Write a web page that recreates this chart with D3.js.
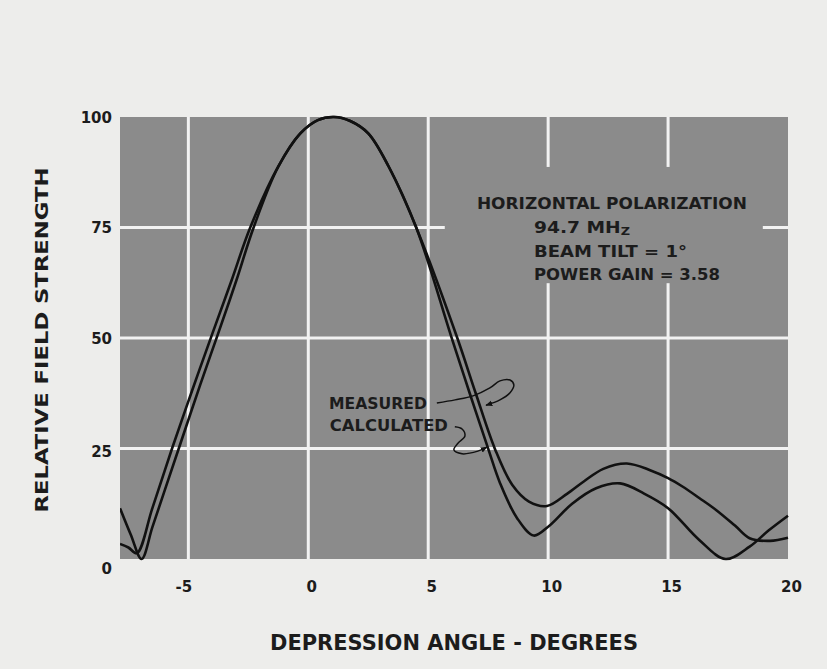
<!DOCTYPE html>
<html><head><meta charset="utf-8">
<script src="https://cdn.jsdelivr.net/npm/d3@7"></script>
<style>body{margin:0;background:#ededeb;} svg{display:block}</style>
</head><body><svg id="c" width="827" height="669"></svg>
<script>
// ---- data ----
const xTicks = [-5, 0, 5, 10, 15, 20];
const yTicks = [0, 25, 50, 75, 100];
const xGrid = [-5, 0, 5, 10, 15];
const yGrid = [25, 50, 75];

const measuredAngle = [-7.85,-7.5,-7.15,-6.5,-5.68,-4.85,-4.0,-3.2,-2.42,-1.25,-0.33,0.4,1.07,1.75,2.5,3.35,4.5,6.18,6.98,7.79,8.5,9.2,9.95,10.8,11.5,12.3,13.28,14.25,15.0,15.6,16.3,17.0,17.8,18.4,19.25,20.0];
const measuredField = [3.4,2.6,1.3,11.5,25,38,51,63,75,88.8,96.3,99.3,100,99.1,96.3,88.8,75,50.5,37.5,24.8,16.8,13,12,14.8,17.6,20.4,21.6,20.1,18.3,16.4,13.8,11.1,7.5,4.7,4.1,4.8];

const calculatedAngle = [-7.85,-7.4,-6.95,-6.5,-6.0,-5.4,-4.5,-3.76,-3.0,-2.28,-1.25,-0.33,0.4,1.07,1.75,2.5,3.35,4.5,5.95,6.73,7.51,8.0,8.7,9.4,10.0,11.0,12.0,13.0,14.0,15.0,16.3,17.4,18.4,19.2,20.0];
const calculatedField = [11.5,5.5,0,7.2,15.3,25,39.5,51,63,75,88.8,96.3,99.3,100,99.1,96.3,88.8,75,50.5,37.5,24.8,17.1,9.3,5.3,7.3,12.5,16,17.1,14.8,11.5,4.3,0,2.8,6.5,9.8];

const noteLines = ["HORIZONTAL POLARIZATION", "94.7 MH", "BEAM TILT = 1°", "POWER GAIN = 3.58"];
const seriesLabels = ["MEASURED", "CALCULATED"];
// leader arrows (data units: angle, field)
const measuredArrowAngle = [5.36,6.12,6.87,7.57,7.99,8.41,8.57,8.41,7.99,7.41];
const measuredArrowField = [35.3,36.0,36.9,38.7,40.3,40.5,39.4,37.6,36.0,34.8];
const calculatedArrowAngle = [6.11,6.41,6.53,6.24,6.07,6.41,7.07,7.45];
const calculatedArrowField = [29.9,29.4,27.8,26.2,24.7,23.8,24.4,25.3];

// ---- layout ----
const svg = d3.select("#c");
const x = d3.scaleLinear().domain([-7.85, 20]).range([120, 788]);
const y = d3.scaleLinear().domain([0, 100]).range([559, 117]);
const FONT = "'DejaVu Sans', sans-serif";
const ink = "#1c1c1c";
const plotFill = "#8b8b8b";

const defs = svg.append("defs");
defs.append("clipPath").attr("id", "clip").append("rect")
  .attr("x", x(-7.85)).attr("y", y(100) - 4)
  .attr("width", x(20) - x(-7.85) + 2).attr("height", y(0) - y(100) + 8);

// plot background
svg.append("rect").attr("x", x(-7.85)).attr("y", y(100))
  .attr("width", x(20) - x(-7.85)).attr("height", y(0) - y(100))
  .attr("fill", plotFill);

// grid
svg.append("g").selectAll("line").data(xGrid).join("line")
  .attr("x1", d => x(d)).attr("x2", d => x(d))
  .attr("y1", y(100)).attr("y2", y(0))
  .attr("stroke", "#f2f2f2").attr("stroke-width", 3);
svg.append("g").selectAll("line").data(yGrid).join("line")
  .attr("x1", x(-7.85)).attr("x2", x(20))
  .attr("y1", d => y(d)).attr("y2", d => y(d))
  .attr("stroke", "#f2f2f2").attr("stroke-width", 3);

// note box (covers grid)
svg.append("rect").attr("x", x(5.69)).attr("y", y(88.7))
  .attr("width", x(18.95) - x(5.69)).attr("height", y(62.4) - y(88.7))
  .attr("fill", plotFill);

// axes (labels only)
const xAxis = svg.append("g").attr("transform", `translate(0,${y(0)})`)
  .call(d3.axisBottom(x).tickValues(xTicks).tickSize(0).tickPadding(22).tickFormat(d => d < 0 ? "-" + Math.abs(d) : d));
xAxis.select(".domain").remove();
xAxis.selectAll("text").attr("font-family", FONT).attr("font-weight", "bold").attr("font-size", 15)
  .attr("fill", ink).attr("dx", d => d < 0 ? -5 : 3);

const yAxis = svg.append("g").attr("transform", `translate(112,0)`)
  .call(d3.axisLeft(y).tickValues(yTicks).tickSize(0).tickPadding(0));
yAxis.select(".domain").remove();
yAxis.selectAll("text").attr("font-family", FONT).attr("font-weight", "bold").attr("font-size", 15)
  .attr("fill", ink).attr("dy", d => d === 0 ? "0.95em" : d === 25 ? "0.55em" : "0.35em");

// curves
const line = d3.line().x(d => x(d[0])).y(d => y(d[1])).curve(d3.curveCatmullRom.alpha(0.5));
const measured = measuredAngle.map((a, i) => [a, measuredField[i]]);
const calculated = calculatedAngle.map((a, i) => [a, calculatedField[i]]);
const curves = svg.append("g").attr("clip-path", "url(#clip)");
[measured, calculated].forEach(s => {
  curves.append("path").datum(s).attr("d", line).attr("fill", "none")
    .attr("stroke", "#111").attr("stroke-width", 2.6).attr("stroke-linejoin", "round");
});

// arrow marker
defs.append("marker").attr("id", "ah")
  .attr("viewBox", "0 0 10 10").attr("refX", 9).attr("refY", 5)
  .attr("markerWidth", 7).attr("markerHeight", 7).attr("markerUnits", "userSpaceOnUse")
  .attr("orient", "auto")
  .append("path").attr("d", "M0,1 L10,5 L0,9 Z").attr("fill", "#111");

const lead = d3.line().x(d => x(d[0])).y(d => y(d[1])).curve(d3.curveCatmullRom.alpha(0.5));
[[measuredArrowAngle, measuredArrowField], [calculatedArrowAngle, calculatedArrowField]].forEach(([a, f]) => {
  svg.append("path").datum(a.map((v, i) => [v, f[i]])).attr("d", lead)
    .attr("fill", "none").attr("stroke", "#111").attr("stroke-width", 1.5)
    .attr("marker-end", "url(#ah)");
});

// series labels
svg.append("text").attr("x", x(4.95)).attr("y", y(33.9)).attr("text-anchor", "end")
  .attr("font-family", FONT).attr("font-weight", "bold").attr("font-size", 15).attr("fill", ink)
  .attr("textLength", 98).attr("lengthAdjust", "spacingAndGlyphs").text(seriesLabels[0]);
svg.append("text").attr("x", x(5.82)).attr("y", y(29.0)).attr("text-anchor", "end")
  .attr("font-family", FONT).attr("font-weight", "bold").attr("font-size", 15).attr("fill", ink)
  .attr("textLength", 118).attr("lengthAdjust", "spacingAndGlyphs").text(seriesLabels[1]);

// note text
const noteX = [7.03, 9.41, 9.41, 9.41];
const noteY = [79.2, 73.8, 68.3, 63.1];
const noteW = [270, 96, 153, 186];
noteLines.forEach((t, i) => {
  const tx = svg.append("text").attr("x", x(noteX[i])).attr("y", y(noteY[i]))
    .attr("font-family", FONT).attr("font-weight", "bold").attr("font-size", 16).attr("fill", ink)
    .attr("textLength", noteW[i]).attr("lengthAdjust", "spacingAndGlyphs");
  if (i === 1) {
    tx.append("tspan").text(t);
    tx.append("tspan").attr("font-size", 11).attr("dy", 2).text("Z");
  } else {
    tx.text(t);
  }
});

// axis titles
svg.append("text").attr("x", 454).attr("y", 650).attr("text-anchor", "middle")
  .attr("font-family", FONT).attr("font-weight", "bold").attr("font-size", 21).attr("fill", ink)
  .attr("textLength", 368).attr("lengthAdjust", "spacingAndGlyphs")
  .text("DEPRESSION ANGLE - DEGREES");
svg.append("text").attr("transform", "translate(48,340) rotate(-90)").attr("text-anchor", "middle")
  .attr("font-family", FONT).attr("font-weight", "bold").attr("font-size", 18).attr("fill", ink)
  .attr("textLength", 345).attr("lengthAdjust", "spacingAndGlyphs")
  .text("RELATIVE FIELD STRENGTH");
</script></body></html>
